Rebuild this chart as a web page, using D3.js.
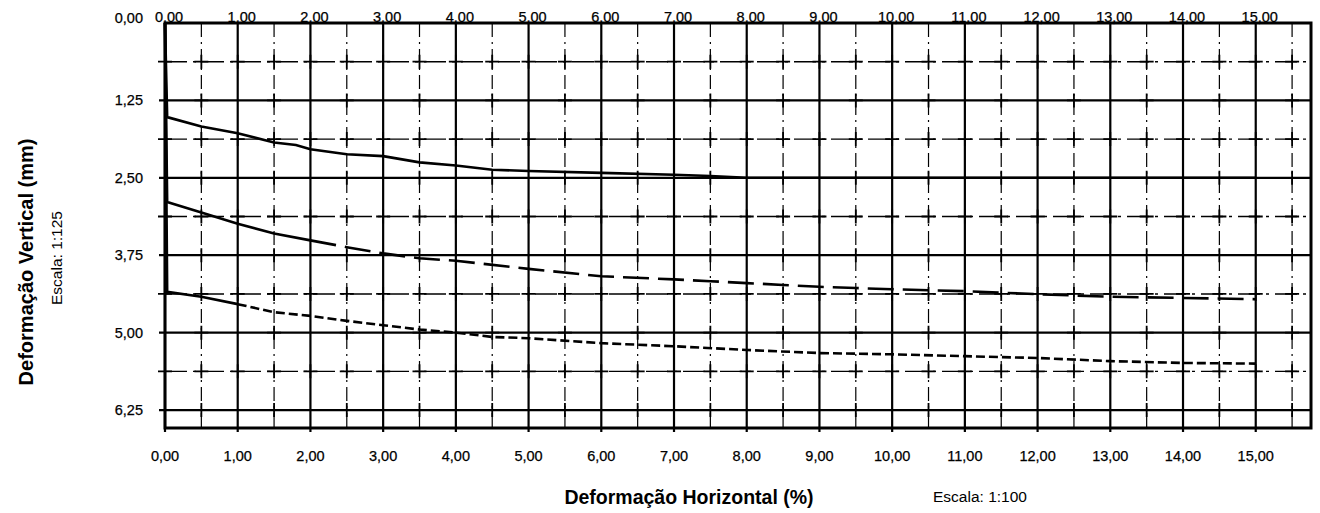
<!DOCTYPE html>
<html><head><meta charset="utf-8">
<script src="https://cdn.jsdelivr.net/npm/d3@7"></script>
<style>body{margin:0;background:#fff}svg{display:block}text{font-family:"Liberation Sans",Arial,sans-serif;fill:#000}</style>
</head><body><svg id="c" width="1320" height="513"></svg>
<script>
// ---- data ----
const xTicks = [0,1,2,3,4,5,6,7,8,9,10,11,12,13,14,15];
const yTicks = [0,1.25,2.5,3.75,5,6.25];
const xTickLabels = ["0,00","1,00","2,00","3,00","4,00","5,00","6,00","7,00","8,00","9,00","10,00","11,00","12,00","13,00","14,00","15,00"];
const yTickLabels = ["0,00","1,25","2,50","3,75","5,00","6,25"];
const curve1X = [0,0.03,0.5,1,1.5,1.8,2,2.5,3,3.5,4,4.5,5,6,7,7.5,8,9,10,11,12,13,14,15];
const curve1Y = [0,1.52,1.67,1.78,1.93,1.97,2.04,2.12,2.15,2.25,2.30,2.37,2.39,2.42,2.45,2.47,2.50,2.50,2.50,2.50,2.50,2.50,2.50,2.50];
const curve2X = [0,0.03,0.5,1,1.5,2,2.5,3,3.5,4,5,6,7,7.5,8,8.5,9,9.5,10,11,12,13,14,15];
const curve2Y = [0,2.89,3.06,3.24,3.40,3.51,3.62,3.72,3.80,3.84,3.97,4.09,4.14,4.17,4.20,4.23,4.26,4.28,4.30,4.33,4.38,4.42,4.44,4.46];
const curve3X = [0,0.03,0.5,1,1.5,2,2.5,3,3.5,4,4.5,5,6,7,8,9,10,11,12,13,14,15];
const curve3Y = [0,4.34,4.42,4.54,4.67,4.73,4.81,4.88,4.95,5.00,5.07,5.09,5.17,5.22,5.28,5.33,5.35,5.38,5.41,5.46,5.49,5.50];

// ---- layout ----
const svg = d3.select("#c");
const L = 165, R = 1311, T = 23, B = 428;
const x = d3.scaleLinear().domain([0, 15.76]).range([L, R]);
const y = d3.scaleLinear().domain([0, 6.54]).range([T, B]);

const g = svg.append("g");
const halfX = d3.range(0.5, 15.6, 1);
g.selectAll(".hv").data(halfX).join("line")
  .attr("x1", d => x(d)).attr("x2", d => x(d)).attr("y1", T).attr("y2", B)
  .attr("stroke", "#000").attr("stroke-width", 1.2).attr("stroke-dasharray", "14,5,2,5");
const halfY = [0.625, 1.875, 3.125, 4.375, 5.625];
g.selectAll(".hh").data(halfY).join("line")
  .attr("x1", L).attr("x2", R).attr("y1", d => y(d)).attr("y2", d => y(d))
  .attr("stroke", "#000").attr("stroke-width", 1.4).attr("stroke-dasharray", "22,6,3,6");
const crosses = [];
halfX.forEach(a => halfY.forEach(b => crosses.push([a, b])));
xTicks.forEach(a => halfY.forEach(b => crosses.push([a, b])));
halfX.forEach(a => [1.25,2.5,3.75,5,6.25].forEach(b => crosses.push([a, b])));
g.selectAll(".cx").data(crosses).join("path")
  .attr("d", d => `M${x(d[0])-7},${y(d[1])}h14M${x(d[0])},${y(d[1])-7}v14`)
  .attr("stroke", "#000").attr("stroke-width", 1.8);
g.selectAll(".mv").data(xTicks).join("line")
  .attr("x1", d => x(d)).attr("x2", d => x(d)).attr("y1", T).attr("y2", B + 4)
  .attr("stroke", "#000").attr("stroke-width", 2.2);
g.selectAll(".mh").data(yTicks.slice(1)).join("line")
  .attr("x1", L - 6).attr("x2", R).attr("y1", d => y(d)).attr("y2", d => y(d))
  .attr("stroke", "#000").attr("stroke-width", 2.2);
g.append("rect").attr("x", L).attr("y", T).attr("width", R - L).attr("height", B - T)
  .attr("fill", "none").attr("stroke", "#000").attr("stroke-width", 3);

const line = d3.line().x(d => x(d[0])).y(d => y(d[1]));
function pts(xs, ys) { return xs.map((v, i) => [v, ys[i]]); }
function drawSplit(p, xs, dash, w) {
  const a = p.filter(d => d[0] <= xs);
  const b = p.filter(d => d[0] >= xs);
  g.append("path").attr("d", line(a)).attr("fill", "none").attr("stroke", "#000").attr("stroke-width", w);
  g.append("path").attr("d", line(b)).attr("fill", "none").attr("stroke", "#000").attr("stroke-width", w).attr("stroke-dasharray", dash);
}
g.append("path").attr("d", line(pts(curve1X, curve1Y))).attr("fill", "none").attr("stroke", "#000").attr("stroke-width", 2.6);
drawSplit(pts(curve2X, curve2Y), 2, "26,9", 2.6);
drawSplit(pts(curve3X, curve3Y), 1, "9,4", 2.6);

// axis labels
const lab = sel => sel.attr("font-size", 14.5).attr("stroke", "#000").attr("stroke-width", 0.25);
lab(svg.append("g").selectAll("text").data(xTicks).join("text")
  .attr("x", d => x(d)).attr("y", 451).attr("dy", "0.71em").attr("text-anchor", "middle")
  .text((d, i) => xTickLabels[i]));
lab(svg.append("g").selectAll("text").data(xTicks).join("text")
  .attr("x", d => x(d) + 4).attr("y", T - 1).attr("text-anchor", "middle")
  .text((d, i) => xTickLabels[i]));
lab(svg.append("g").selectAll("text").data(yTicks).join("text")
  .attr("x", 143).attr("y", (d, i) => y(d) + (i === 0 ? -5 : 0)).attr("dy", "0.35em").attr("text-anchor", "end")
  .text((d, i) => yTickLabels[i]));

svg.append("text").attr("x", 689).attr("y", 504).attr("text-anchor", "middle")
  .attr("font-size", 19.5).attr("font-weight", "bold").text("Deformação Horizontal (%)");
svg.append("text").attr("x", 933).attr("y", 502).attr("font-size", 15.5).text("Escala:  1:100");
svg.append("text").attr("transform", "translate(33,262) rotate(-90)").attr("text-anchor", "middle")
  .attr("font-size", 20).attr("font-weight", "bold").text("Deformação Vertical (mm)");
svg.append("text").attr("transform", "translate(62,258) rotate(-90)").attr("text-anchor", "middle")
  .attr("font-size", 15.5).text("Escala:  1:125");
</script></body></html>
